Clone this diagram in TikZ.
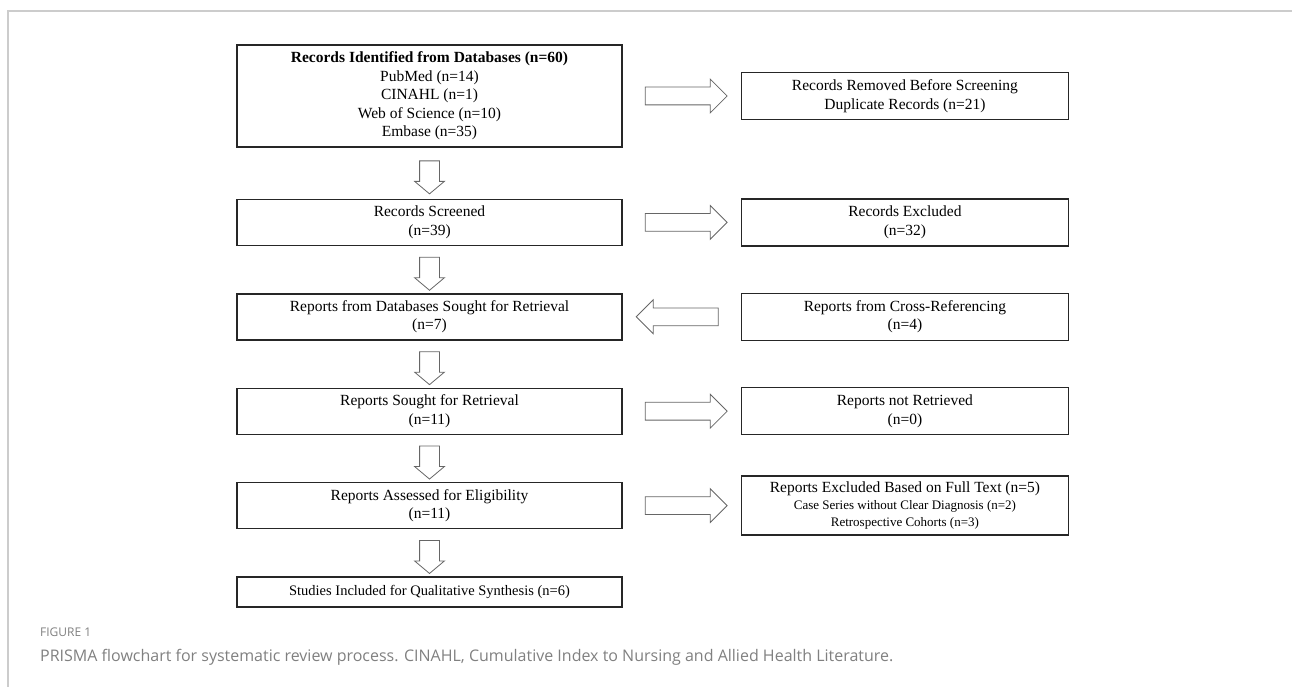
\documentclass[tikz,border=0pt]{standalone}
\usepackage{fontspec}
\setmainfont{Liberation Serif}
\newfontfamily\capfont{Open Sans}
\usepackage{tikz}
\usetikzlibrary{shapes,arrows,positioning,calc}

\begin{document}
\begin{tikzpicture}[
  x=1pt, y=-1pt,
  node distance=47pt and 118pt,
  box/.style={rectangle, draw=black!85, line width=1.4pt, fill=white, align=center, inner sep=0pt, font=\fontsize{15.5}{18.5}\selectfont},
  leftbox/.style={box, minimum width=385pt, minimum height=46pt},
  rightbox/.style={box, minimum width=327pt, minimum height=47pt},
  downarrow/.style={single arrow, draw=black!60, fill=white, line width=0.8pt, inner sep=9.5pt, single arrow head extend=5pt, single arrow tip angle=100, minimum height=33pt, shape border rotate=270},
  sidearrow/.style={single arrow, draw=black!60, fill=white, line width=0.8pt, inner sep=8.5pt, single arrow head extend=8pt, single arrow tip angle=90, minimum height=82pt},
  capstyle/.style={anchor=base west, inner sep=0pt, text=black!50}
]
  \useasboundingbox (0,0) rectangle (1292,687);
  \draw[black!20, line width=2pt] (8,687) -- (8,11) -- (1292,11);

  \node[leftbox, minimum height=102pt] (ident) at (429.5,96) {\textbf{Records Identified from Databases (n=60)}\\PubMed (n=14)\\CINAHL (n=1)\\Web of Science (n=10)\\Embase (n=35)};
  \node[leftbox, below=51pt of ident] (screen) {Records Screened\\(n=39)};
  \node[leftbox, below=of screen] (dbsought) {Reports from Databases Sought for Retrieval\\(n=7)};
  \node[leftbox, below=of dbsought] (sought) {Reports Sought for Retrieval\\(n=11)};
  \node[leftbox, below=of sought] (assess) {Reports Assessed for Eligibility\\(n=11)};
  \node[leftbox, below=of assess, minimum height=30pt, font=\fontsize{14.5}{17}\selectfont] (incl) {Studies Included for Qualitative Synthesis (n=6)};

  \node[rightbox, right=of ident] (dup) {Records Removed Before Screening\\Duplicate Records (n=21)};
  \node[rightbox, right=of screen] (excl) {Records Excluded\\(n=32)};
  \node[rightbox, right=of dbsought] (xref) {Reports from Cross-Referencing\\(n=4)};
  \node[rightbox, right=of sought] (notret) {Reports not Retrieved\\(n=0)};
  \node[rightbox, right=of assess, minimum height=59pt] (fulltxt) {Reports Excluded Based on Full Text (n=5)\\[-1.5pt]{\fontsize{13}{16}\selectfont Case Series without Clear Diagnosis (n=2)}\\[-1.5pt]{\fontsize{13}{16}\selectfont Retrospective Cohorts (n=3)}};

  % block arrows between the boxes
  \path (ident.south) -- (screen.north) node[midway, downarrow] {};
  \path (screen.south) -- (dbsought.north) node[midway, downarrow] {};
  \path (dbsought.south) -- (sought.north) node[midway, downarrow] {};
  \path (sought.south) -- (assess.north) node[midway, downarrow] {};
  \path (assess.south) -- (incl.north) node[midway, downarrow] {};
  \path (ident.east) -- (dup.west) node[midway, sidearrow] {};
  \path (screen.east) -- (excl.west) node[midway, sidearrow] {};
  \path (xref.west) -- (dbsought.east) node[midway, sidearrow, shape border rotate=180] {};
  \path (sought.east) -- (notret.west) node[midway, sidearrow] {};
  \path (assess.east) -- (fulltxt.west) node[midway, sidearrow] {};

  \node[capstyle, font=\capfont\fontsize{12}{14}\selectfont] (figlbl) at (40,636) {FIGURE 1};
  \node[capstyle, font=\capfont\fontsize{16}{19}\selectfont] (figcap) at (40,661) {PRISMA flowchart for systematic review process. CINAHL, Cumulative Index to Nursing and Allied Health Literature.};
\end{tikzpicture}
\end{document}
